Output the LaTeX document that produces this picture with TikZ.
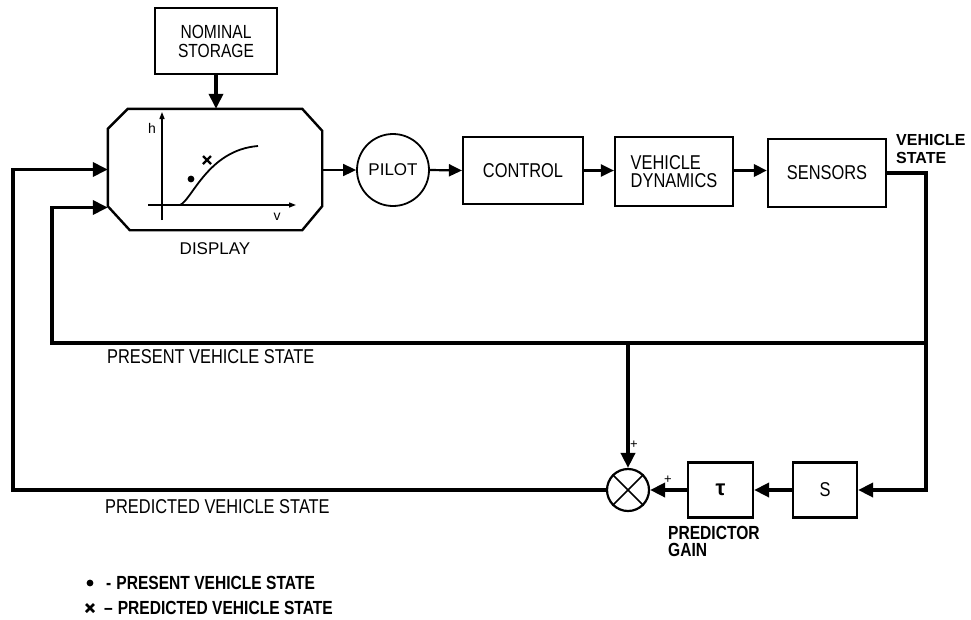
\documentclass[tikz,border=0pt]{standalone}
\usepackage{fontspec}
\setmainfont{Liberation Sans}
\newfontfamily\cond[FakeStretch=0.82]{Liberation Sans}
\usetikzlibrary{arrows.meta,calc}
\begin{document}
\begin{tikzpicture}[x=1pt,y=-1pt,
  box/.style={draw,line width=2.2pt,inner sep=0pt,font=\cond\fontsize{20}{18.5}\selectfont},
  fb/.style={line width=3.6pt},
  thinline/.style={line width=1.6pt},
  midline/.style={line width=2.2pt},
  tip/.style={-{Triangle[length=15pt,width=14pt]}},
  smalltip/.style={-{Triangle[length=13pt,width=12pt]}},
  lab/.style={font=\cond\fontsize{20}{16}\selectfont,inner sep=0pt},
  blab/.style={font=\cond\bfseries\fontsize{19}{17.5}\selectfont,inner sep=0pt},
  vslabel/.style={font=\bfseries\fontsize{16}{16}\selectfont,inner sep=0pt,anchor=base west},
  ]
\useasboundingbox (0,0) rectangle (971,619);

% nominal storage
\node[box,minimum width=122pt,minimum height=66pt,align=center,font=\cond\fontsize{19}{19}\selectfont] (nom) at (216,41) {NOMINAL\\STORAGE};

% display
\node[minimum width=214pt,minimum height=121pt,inner sep=0pt] (disp) at (215,169.5) {};
\draw[line width=2.4pt,line join=miter]
  ($(disp.north west)+(20,0)$) -- ($(disp.north east)+(-20,0)$) --
  ($(disp.north east)+(0,22)$) -- ($(disp.south east)+(0,-24)$) --
  ($(disp.south east)+(-20,0)$) -- ($(disp.south west)+(22,0)$) --
  ($(disp.south west)+(0,-24)$) -- ($(disp.north west)+(0,20)$) -- cycle;
\node[font=\fontsize{17}{17}\selectfont,inner sep=0pt] (displab) at (215,249) {DISPLAY};

% plot inside display
\draw[line width=1.3pt,-{Triangle[length=7pt,width=5pt]}] (162,220) -- (162,112);
\draw[line width=1.3pt,-{Triangle[length=7pt,width=5pt]}] (148,205) -- (296,205);
\node[font=\fontsize{14}{14}\selectfont,inner sep=0pt] (hl) at (152,128) {h};
\node[font=\fontsize{14}{14}\selectfont,inner sep=0pt] (vl) at (277,217) {v};
\draw[line width=1.8pt] (180,205) .. controls (192,200) and (208,150) .. (258,146);
\fill (191,179) circle (3.4pt);
\draw[line width=2.2pt] (203,156) -- (211,164) (203,164) -- (211,156);

% main row
\node[draw,circle,line width=1.8pt,minimum size=72pt,inner sep=0pt,font=\fontsize{17}{17}\selectfont] (pilot) at (393,170) {PILOT};
\node[box,minimum width=120pt,minimum height=67pt] (ctrl) at (523,170.5) {CONTROL};
\node[box,minimum width=118pt,minimum height=69pt,align=left] (vd) at (674,171.5) {VEHICLE\\DYNAMICS};
\node[box,minimum width=118pt,minimum height=68pt] (sens) at (827,173) {SENSORS};
\node[vslabel] (vs1) at (896,145) {VEHICLE};
\node[vslabel] (vs2) at (896,163) {STATE};

\draw[fb,tip] (nom.south) -- (disp.north -| nom.south);
\draw[thinline,smalltip] (disp.east |- pilot.west) -- (pilot.west);
\draw[midline,smalltip] (pilot.east) -- (ctrl.west);
\draw[midline,smalltip] (ctrl.east) -- (vd.west |- ctrl.east);
\draw[fb,smalltip] (vd.east |- ctrl.east) -- (sens.west |- ctrl.east);

% predictor path
\node[draw,circle,line width=2.2pt,minimum size=42pt,inner sep=0pt] (sum) at (628,490) {};
\draw[line width=1.6pt] (sum.north east) -- (sum.south west) (sum.north west) -- (sum.south east);
\node[box,minimum width=65pt,minimum height=55pt,font=\bfseries\fontsize{22}{22}\selectfont] (tau) at (720.5,490) {τ};
\node[box,minimum width=64pt,minimum height=55pt] (sbox) at (825,490) {S};
\node[blab,align=left,anchor=north west] (pglab) at (668,526) {PREDICTOR\\GAIN};
\node[font=\fontsize{13}{13}\selectfont,inner sep=0pt] (plus1) at (634,445) {+};
\node[font=\fontsize{13}{13}\selectfont,inner sep=0pt] (plus2) at (668,480) {+};

\coordinate (c1) at (926,173);
\coordinate (c3) at (926,343);
\coordinate (c4) at (52,343);
\coordinate (c2) at (13,490);
\coordinate (in2) at ($(disp.west)+(0,38)$);

\draw[fb,tip,line join=miter] (sens.east) -- (c1) |- (sbox.east);
\draw[fb,tip] (sbox.west) -- (tau.east);
\draw[fb,tip] (tau.west) -- (sum.east);
\draw[fb,tip,line join=miter] (sum.west) -- (c2) |- (disp.west);
\draw[fb,tip,line join=miter] (c3) -- (c4) |- (in2);
\draw[fb,tip] (sum.north |- c3) -- (sum.north);

% labels
\node[lab,anchor=west] (present) at (107,357) {PRESENT VEHICLE STATE};
\node[lab,anchor=west] (predicted) at (105,507) {PREDICTED VEHICLE STATE};

% legend
\fill (90,583) circle (3.4pt);
\draw[line width=2.6pt] (86,604) -- (94,612) (86,612) -- (94,604);
\node[blab,anchor=west] (leg1) at (106,583) {-\hspace{5pt}PRESENT VEHICLE STATE};
\node[blab,anchor=west] (leg2) at (104,608) {–\hspace{5pt}PREDICTED VEHICLE STATE};
\end{tikzpicture}
\end{document}
